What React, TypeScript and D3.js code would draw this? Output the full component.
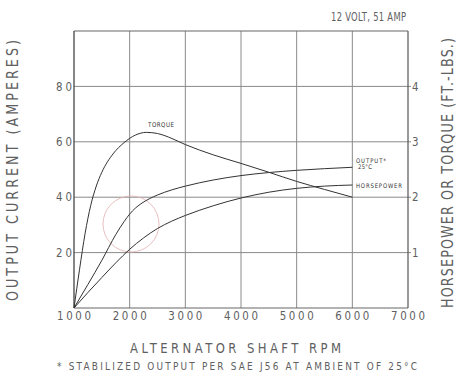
import React from "react";
import * as d3 from "d3";

const rpmTicks = [1000, 2000, 3000, 4000, 5000, 6000, 7000];
const ampTicks = [20, 40, 60, 80];
const rightTicks = [1, 2, 3, 4];

const outputRpm = [1000, 1250, 1500, 1750, 1900, 2000, 2100, 2200, 2350, 2500, 2750, 3000, 3500, 4000, 4500, 5000, 5500, 6000];
const outputAmps = [0, 8.5, 17.2, 26.5, 31.2, 33.9, 36.0, 37.6, 39.4, 40.8, 42.6, 44, 46.2, 47.8, 48.9, 49.7, 50.3, 50.8];

const hpRpm = [1000, 1250, 1500, 1750, 2000, 2250, 2500, 2750, 3000, 3500, 4000, 4500, 5000, 5500, 6000];
const hpValues = [0, 0.28, 0.55, 0.815, 1.06, 1.265, 1.435, 1.565, 1.67, 1.845, 1.985, 2.09, 2.16, 2.2, 2.22];

const torqueRpm = [1000, 1100, 1200, 1300, 1400, 1500, 1700, 1900, 2100, 2300, 2500, 2700, 3000, 3500, 4000, 4500, 5000, 5500, 6000];
const torqueValues = [0, 0.7, 1.35, 1.85, 2.2, 2.45, 2.78, 2.985, 3.12, 3.17, 3.15, 3.085, 2.95, 2.765, 2.61, 2.45, 2.285, 2.14, 2.0];

const FONT = "'DejaVu Sans', sans-serif";
const TXT = "#606060";

type TProps = {
  x: number; y: number; text: string; size: number; width: number;
  sx?: number; anchor?: "start" | "middle" | "end"; rotate?: boolean; fill?: string; weight?: number;
};

function T({ x, y, text, size, width, sx = 0.85, anchor = "start", rotate = false, fill = TXT, weight = 400 }: TProps) {
  let start = 0;
  if (anchor === "middle") start = -width / 2;
  if (anchor === "end") start = -width;
  const tf = rotate
    ? `translate(${x},${y}) rotate(-90) translate(${start},0) scale(${sx},1)`
    : `translate(${x + start},${y}) scale(${sx},1)`;
  return (
    <text transform={tf} fontFamily={FONT} fontSize={size} fill={fill} fontWeight={weight}
      textLength={width / sx} lengthAdjust="spacing">{text}</text>
  );
}

export default function App() {
  const left = 74, right = 408, top = 31, bottom = 308;
  const x = d3.scaleLinear().domain([1000, 7000]).range([left, right]);
  const y = d3.scaleLinear().domain([0, 100]).range([bottom, top]);
  const yR = d3.scaleLinear().domain([0, 5]).range([bottom, top]);

  const lineL = d3.line<[number, number]>().x(d => x(d[0])).y(d => y(d[1])).curve(d3.curveMonotoneX);
  const lineR = d3.line<[number, number]>().x(d => x(d[0])).y(d => yR(d[1])).curve(d3.curveMonotoneX);

  const outPts = outputRpm.map((r, i) => [r, outputAmps[i]] as [number, number]);
  const hpPts = hpRpm.map((r, i) => [r, hpValues[i]] as [number, number]);
  const tqPts = torqueRpm.map((r, i) => [r, torqueValues[i]] as [number, number]);

  return (
    <svg width={462} height={372} style={{ position: "absolute", left: 0, top: 0, background: "#fff" }}>
      <rect x={0} y={0} width={462} height={372} fill="#fff" />
      {rpmTicks.slice(1, -1).map(t => (
        <line key={"vx" + t} x1={x(t)} x2={x(t)} y1={top} y2={bottom} stroke="#8a8a8a" strokeWidth={1} />
      ))}
      {ampTicks.map(t => (
        <line key={"hy" + t} x1={left} x2={right + 3} y1={y(t)} y2={y(t)} stroke="#8a8a8a" strokeWidth={1} />
      ))}
      <line x1={left} x2={right} y1={top} y2={top} stroke="#666" strokeWidth={1} />
      <line x1={left} x2={right} y1={bottom} y2={bottom} stroke="#666" strokeWidth={1} />
      <line x1={left} x2={left} y1={top} y2={bottom} stroke="#444" strokeWidth={1.3} />
      <line x1={right} x2={right} y1={top} y2={bottom} stroke="#555" strokeWidth={1.2} />

      <circle cx={131} cy={224} r={28} fill="none" stroke="#e3b0b0" strokeWidth={0.8} />

      <path d={lineR(tqPts) || ""} fill="none" stroke="#333" strokeWidth={1} />
      <path d={lineL(outPts) || ""} fill="none" stroke="#333" strokeWidth={1} />
      <path d={lineR(hpPts) || ""} fill="none" stroke="#333" strokeWidth={1} />

      <T x={148} y={127} text="TORQUE" size={6.5} width={26} sx={0.85} fill="#333" />
      <T x={356} y={163} text="OUTPUT*" size={6.3} width={30} sx={0.85} fill="#333" />
      <T x={358} y={169} text="25°C" size={6.3} width={14} sx={0.85} fill="#333" />
      <T x={356} y={187.5} text="HORSEPOWER" size={6.3} width={46} sx={0.85} fill="#333" />

      {rpmTicks.map(t => (
        <T key={"xt" + t} x={x(t)} y={319.5} text={String(t)} size={11.4} width={34} anchor="middle" sx={0.9} />
      ))}
      {ampTicks.map(t => (
        <T key={"yt" + t} x={72} y={y(t) + 4.2} text={String(t)} size={11.4} width={16} anchor="end" sx={0.9} />
      ))}
      {rightTicks.map(t => (
        <T key={"rt" + t} x={412} y={yR(t) + 4.2} text={String(t)} size={11.4} width={6} sx={0.9} />
      ))}

      <T x={331} y={21} text="12 VOLT, 51 AMP" size={12} width={75} sx={0.7} />
      <T x={130} y={353} text="ALTERNATOR SHAFT RPM" size={13.7} width={211} />
      <T x={57} y={370} text="* STABILIZED OUTPUT PER SAE J56 AT AMBIENT OF 25°C" size={10.5} width={360} />
      <T x={17.5} y={301} text="OUTPUT CURRENT (AMPERES)" size={15} width={261} rotate />
      <T x={452.5} y={308} text="HORSEPOWER OR TORQUE (FT.-LBS.)" size={15} width={270} rotate />
    </svg>
  );
}
